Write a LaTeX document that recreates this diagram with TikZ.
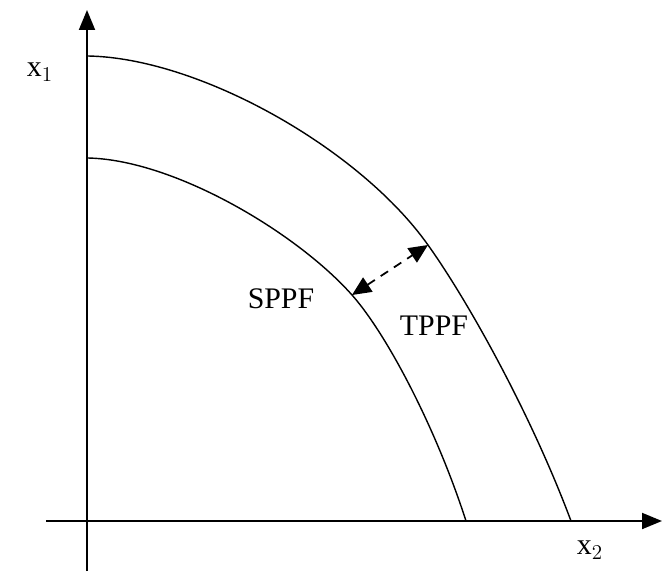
\documentclass[tikz,border=0pt]{standalone}
\usepackage{fontspec}
\setmainfont{Liberation Serif}
\usetikzlibrary{arrows.meta,positioning}

\begin{document}
\begin{tikzpicture}[x=0.02cm, y=-0.02cm,
    axis/.style={line width=1.1pt, -{Triangle[length=4mm, width=3.2mm]}},
    frontier/.style={line width=0.8pt},
    gaparrow/.style={line width=1pt, dash pattern=on 5pt off 4pt, {Triangle[length=3.8mm, width=3.4mm]}-{Triangle[length=3.8mm, width=3.4mm]}},
    lbl/.style={font=\fontsize{17}{20}\selectfont}
]
    \useasboundingbox (0,0) rectangle (662,574);

    % Axes
    \coordinate (origin) at (87,521);
    \coordinate (ybot) at (87,571);
    \coordinate (ytop) at (87,10);
    \coordinate (xleft) at (46,521);
    \coordinate (xright) at (662,521);
    \draw[line width=1.1pt] (ybot) -- (origin);
    \draw[axis] (origin) -- (ytop);
    \draw[line width=1.1pt] (xleft) -- (origin);
    \draw[axis] (origin) -- (xright);

    % Frontiers
    \coordinate (tppfpt) at (428,245);
    \coordinate (sppfpt) at (352,295);
    \draw[frontier] (88,56) .. controls (200,58) and (360,149) .. (tppfpt)
        .. controls (468,301) and (531,414) .. (571,521);
    \draw[frontier] (88,158) .. controls (175,160) and (297,233) .. (sppfpt)
        .. controls (387,334.5) and (436,428) .. (466,521);

    % Shift between frontiers
    \draw[gaparrow] (sppfpt) -- (tppfpt);

    % Labels
    \node[lbl] (xone) at (40,72) {x$_1$};
    \node[lbl] (xtwo) at (590,550) {x$_2$};
    \node[lbl] (sppf) at (281,299) {SPPF};
    \node[lbl] (tppf) at (434,326) {TPPF};
\end{tikzpicture}
\end{document}
